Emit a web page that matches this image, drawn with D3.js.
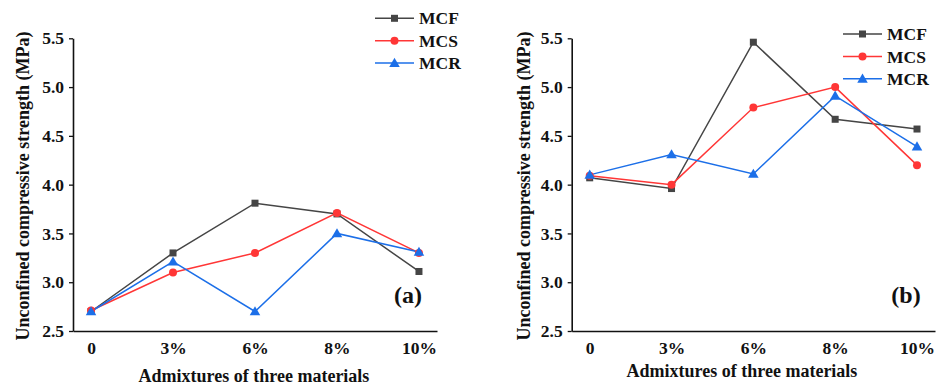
<!DOCTYPE html>
<html><head><meta charset="utf-8">
<script src="https://cdn.jsdelivr.net/npm/d3@7"></script>
<style>body{margin:0;background:#fff}svg{display:block}</style>
</head><body><svg id="c" width="945" height="385"></svg>
<script>
const categories = ["0","3%","6%","8%","10%"];
const seriesNames = ["MCF","MCS","MCR"];
const yTicks = [2.5,3.0,3.5,4.0,4.5,5.0,5.5];
// Panel (a)
const a_MCF = [2.70,3.30,3.81,3.70,3.11];
const a_MCS = [2.71,3.10,3.30,3.71,3.30];
const a_MCR = [2.70,3.21,2.70,3.50,3.31];
// Panel (b)
const b_MCF = [4.07,3.96,5.46,4.67,4.57];
const b_MCS = [4.09,4.00,4.79,5.00,4.20];
const b_MCR = [4.10,4.31,4.11,4.91,4.39];

const FONT = "'Liberation Serif', Tinos, 'Times New Roman', Times, serif";
const colors = {MCF:"#454545", MCS:"#ff3636", MCR:"#1c6fe8"};
const svg = d3.select("#c").attr("font-family",FONT).attr("font-weight","bold");

function marker(g, name, x, y){
  const c = colors[name];
  if(name==="MCF") g.append("rect").attr("x",x-3.5).attr("y",y-3.5).attr("width",7).attr("height",7).attr("fill",c);
  else if(name==="MCS") g.append("circle").attr("cx",x).attr("cy",y).attr("r",4).attr("fill",c);
  else g.append("path").attr("d",d3.symbol(d3.symbolTriangle,48)()).attr("transform",`translate(${x},${y+0.8})`).attr("fill",c);
}
function styleText(sel, size){
  sel.attr("font-size",size).attr("fill","#111").attr("font-family",FONT).attr("font-weight","bold");
}

function panel(cfg){
  const g = svg.append("g");
  const x = d3.scalePoint().domain(categories).range([cfg.x0,cfg.x1]).padding(0.22);
  const y = d3.scaleLinear().domain([2.5,5.5]).range([331,38.3]);
  const ya = g.append("g").attr("transform",`translate(${cfg.x0},0)`)
    .call(d3.axisLeft(y).tickValues(yTicks).tickFormat(d3.format(".1f")).tickSize(4).tickSizeOuter(0).tickPadding(5));
  ya.attr("font-family",FONT);
  ya.select(".domain").attr("stroke","#111").attr("stroke-width",1.6);
  ya.selectAll(".tick line").attr("stroke","#111").attr("stroke-width",1.3);
  styleText(ya.selectAll(".tick text"),17.5);
  const xa = g.append("g").attr("transform",`translate(0,331)`)
    .call(d3.axisBottom(x).tickSize(0).tickSizeOuter(0).tickPadding(11));
  xa.attr("font-family",FONT);
  xa.select(".domain").attr("stroke","#111").attr("stroke-width",1.6);
  styleText(xa.selectAll(".tick text"),17.5);
  styleText(g.append("text").attr("x",cfg.xtX).attr("y",cfg.xtY).attr("text-anchor","middle")
    .text("Admixtures of three materials"),18);
  styleText(g.append("text").attr("transform",`translate(${cfg.ytX},186) rotate(-90)`).attr("text-anchor","middle").attr("dy","0.35em")
    .text("Unconfined compressive strength (MPa)"),18);
  const line = d3.line().x((d,i)=>x(categories[i])).y(d=>y(d));
  cfg.data.forEach((vals,k)=>{
    const name = seriesNames[k];
    g.append("path").attr("d",line(vals)).attr("fill","none").attr("stroke",colors[name]).attr("stroke-width",1.5);
  });
  cfg.data.forEach((vals,k)=>{
    const name = seriesNames[k];
    vals.forEach((v,i)=>marker(g,name,x(categories[i]),y(v)));
  });
  seriesNames.forEach((name,k)=>{
    const ly = cfg.legY + k*22.4;
    g.append("line").attr("x1",cfg.legX).attr("x2",cfg.legX+39).attr("y1",ly).attr("y2",ly).attr("stroke",colors[name]).attr("stroke-width",1.5);
    marker(g,name,cfg.legX+19.5,ly);
    styleText(g.append("text").attr("x",cfg.legX+44).attr("y",ly).attr("dy","0.35em").text(name),17.5);
  });
  styleText(g.append("text").attr("x",cfg.labX).attr("y",303).attr("text-anchor","middle").text(cfg.label),24);
}

panel({x0:73, x1:437, data:[a_MCF,a_MCS,a_MCR], legX:375, legY:18.3, label:"(a)", labX:408, xtX:254, xtY:382, ytX:23});
panel({x0:571.7, x1:935, data:[b_MCF,b_MCS,b_MCR], legX:843, legY:34, label:"(b)", labX:906, xtX:742, xtY:377, ytX:524});
</script></body></html>
